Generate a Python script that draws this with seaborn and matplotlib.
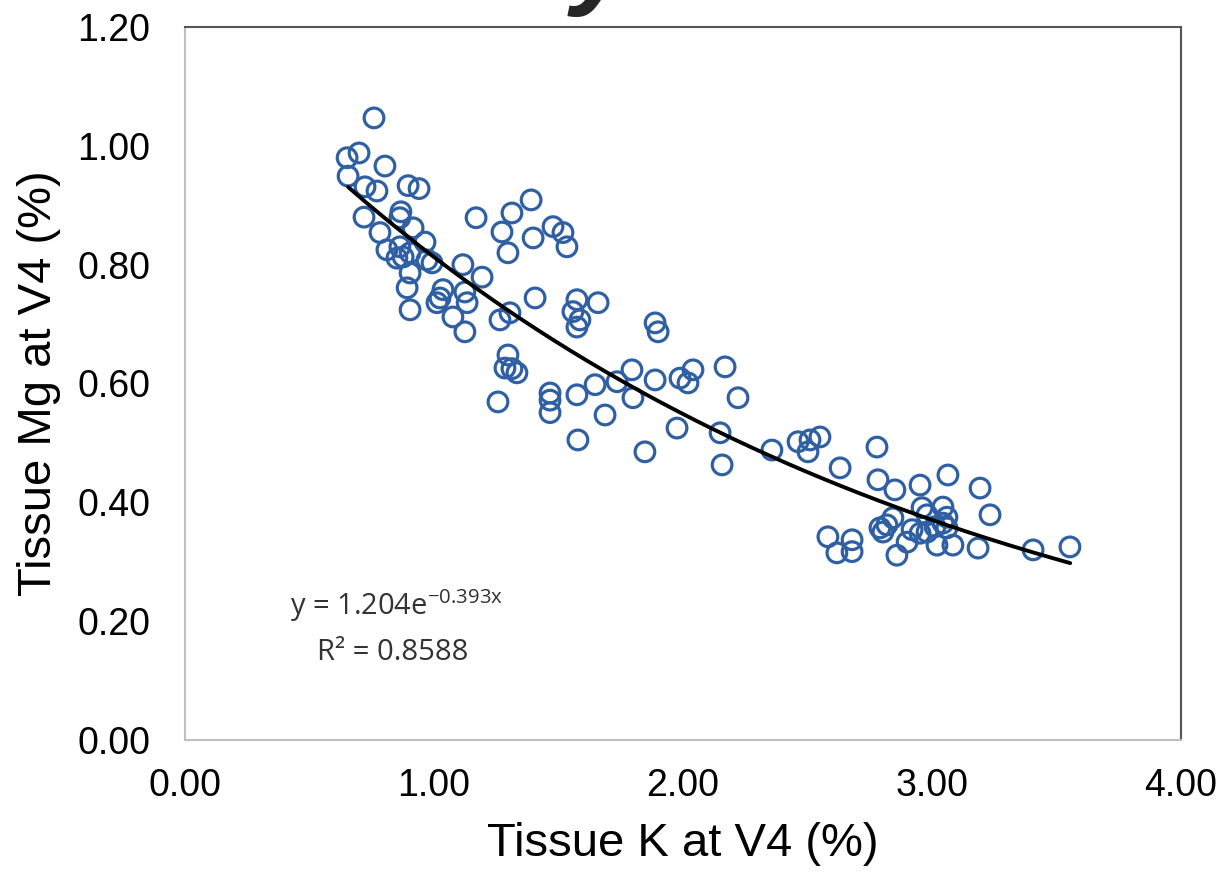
import numpy as np
import pandas as pd
import matplotlib
matplotlib.use("Agg")
import matplotlib.pyplot as plt
import seaborn as sns

# ---- data ----
tissue_k = [
    0.759, 0.651, 0.699, 0.803, 0.655, 0.723, 0.771, 0.896, 0.940, 0.719,
    0.783, 0.867, 0.863, 0.916, 0.964, 0.811, 0.863, 0.904, 0.876, 0.851,
    0.972, 0.992, 0.904, 0.892, 0.904, 1.012, 1.036, 1.024, 1.076, 1.124,
    1.133, 1.124, 1.116, 1.193, 1.169, 1.273, 1.313, 1.390, 1.297, 1.398,
    1.478, 1.518, 1.534, 1.406, 1.265, 1.305, 1.574, 1.558, 1.586, 1.574,
    1.659, 1.297, 1.285, 1.333, 1.313, 1.257, 1.466, 1.466, 1.466, 1.574,
    1.647, 1.578, 1.687, 1.735, 1.795, 1.799, 1.888, 1.888, 1.900, 1.988,
    2.040, 2.020, 1.976, 1.847, 2.169, 2.221, 2.149, 2.157, 2.357, 2.462,
    2.510, 2.550, 2.502, 2.631, 2.779, 2.783, 2.851, 2.952, 3.064, 3.193,
    3.233, 2.960, 3.044, 2.980, 3.060, 2.791, 2.819, 2.843, 2.803, 2.920,
    2.952, 2.980, 3.012, 3.044, 3.060, 2.900, 3.020, 3.084, 3.185, 3.406,
    3.554, 2.582, 2.679, 2.679, 2.618, 2.859,
]
tissue_mg = [
    1.047, 0.980, 0.988, 0.966, 0.949, 0.931, 0.924, 0.933, 0.928, 0.880,
    0.854, 0.889, 0.879, 0.862, 0.838, 0.825, 0.830, 0.820, 0.813, 0.811,
    0.808, 0.803, 0.786, 0.761, 0.724, 0.736, 0.758, 0.744, 0.712, 0.754,
    0.736, 0.687, 0.800, 0.779, 0.879, 0.855, 0.887, 0.909, 0.820, 0.845,
    0.864, 0.854, 0.830, 0.744, 0.707, 0.719, 0.741, 0.721, 0.707, 0.695,
    0.736, 0.648, 0.626, 0.618, 0.625, 0.569, 0.584, 0.572, 0.551, 0.581,
    0.598, 0.505, 0.547, 0.603, 0.623, 0.576, 0.606, 0.702, 0.687, 0.609,
    0.623, 0.601, 0.525, 0.485, 0.628, 0.576, 0.517, 0.463, 0.488, 0.502,
    0.505, 0.510, 0.485, 0.458, 0.493, 0.438, 0.421, 0.429, 0.446, 0.424,
    0.379, 0.391, 0.392, 0.379, 0.375, 0.357, 0.362, 0.374, 0.350, 0.354,
    0.348, 0.350, 0.359, 0.365, 0.357, 0.333, 0.328, 0.328, 0.323, 0.320,
    0.325, 0.342, 0.337, 0.317, 0.315, 0.311,
]

# exponential trendline  y = a * exp(b x)
fit_a = 1.204
fit_b = -0.393
fit_x_range = [0.655, 3.555]
equation_text = r"y = 1.204e$^{\mathrm{-0.393x}}$"
r2_text = "R² = 0.8588"

x_ticks = [0.0, 1.0, 2.0, 3.0, 4.0]
y_ticks = [0.0, 0.2, 0.4, 0.6, 0.8, 1.0, 1.2]
x_label = "Tissue K at V4 (%)"
y_label = "Tissue Mg at V4 (%)"

# ---- style ----
sns.set_style("white")
plt.rcParams["font.family"] = ["Liberation Sans", "DejaVu Sans"]
plt.rcParams["mathtext.fontset"] = "custom"
plt.rcParams["mathtext.rm"] = "Open Sans"
plt.rcParams["mathtext.it"] = "Open Sans"
plt.rcParams["mathtext.bf"] = "Open Sans"

marker_color = "#3060A4"

fig = plt.figure(figsize=(12.24, 8.75), dpi=100)
ax = fig.add_axes([185 / 1224, 135 / 875, (1181 - 185) / 1224, (740 - 27) / 875])

df = pd.DataFrame({"k": tissue_k, "mg": tissue_mg})
sns.scatterplot(data=df, x="k", y="mg", ax=ax, marker="o", s=200,
                facecolor="none", edgecolor=marker_color, linewidth=2.3,
                zorder=3, legend=False)

fx = np.linspace(fit_x_range[0], fit_x_range[1], 200)
fit_df = pd.DataFrame({"x": fx, "y": fit_a * np.exp(fit_b * fx)})
sns.lineplot(data=fit_df, x="x", y="y", ax=ax, color="black", linewidth=2.8,
             zorder=4)

ax.set_xlim(0, 4)
ax.set_ylim(0, 1.2)
ax.set_xticks(x_ticks)
ax.set_yticks(y_ticks)
ax.set_xticklabels([f"{v:.2f}" for v in x_ticks])
ax.set_yticklabels([f"{v:.2f}" for v in y_ticks])
ax.tick_params(axis="both", length=0, labelsize=27, colors="black",
               labelcolor="black")
ax.tick_params(axis="x", pad=20)
ax.tick_params(axis="y", pad=25)
ax.set_xlabel(x_label, fontsize=34, labelpad=13, color="black")
ax.set_ylabel(y_label, fontsize=34, labelpad=12, color="black")
ax.grid(False)

for side in ["left", "bottom"]:
    ax.spines[side].set_color("#BFBFBF")
    ax.spines[side].set_linewidth(1.5)
for side in ["top", "right"]:
    ax.spines[side].set_color("#555555")
    ax.spines[side].set_linewidth(1.5)

ax.text(0.212, 0.175, equation_text, transform=ax.transAxes, fontsize=21,
        family="Open Sans", color="#333333", ha="center", va="baseline")
ax.text(0.209, 0.112, r2_text, transform=ax.transAxes, fontsize=21,
        family="Open Sans", color="#333333", ha="center", va="baseline")

# cropped fragment of the title at the very top
fig.text(0.492, 1.007, "y", fontsize=80, fontweight="bold", style="italic",
         ha="center", va="baseline")

fig.savefig("out.png", dpi=100)
